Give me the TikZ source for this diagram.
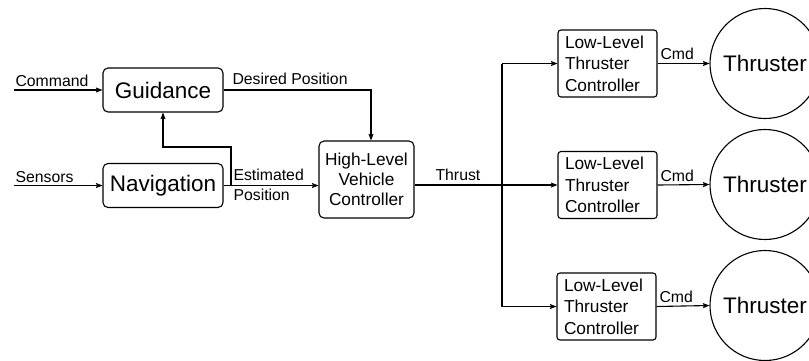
\documentclass[tikz,border=0pt]{standalone}
\usepackage{fontspec}
\setmainfont{Liberation Sans}
\usetikzlibrary{arrows.meta}
\begin{document}
\begin{tikzpicture}[x=1pt,y=-1pt,
  line width=1.1pt,
  arr/.style={-{Stealth[length=6.5pt,width=5pt,inset=1pt]}},
  bigbox/.style={draw,rounded corners=5pt,minimum width=120pt,minimum height=44pt,inner sep=0pt,font=\fontsize{22.5}{26}\selectfont},
  hlbox/.style={draw,rounded corners=5pt,minimum width=95pt,minimum height=77pt,inner sep=0pt,align=center,font=\fontsize{17.3}{20}\selectfont},
  llbox/.style={draw,rounded corners=3pt,minimum width=99pt,minimum height=67pt,inner xsep=7pt,inner ysep=0pt,text width=85pt,align=left,font=\fontsize{17.3}{21.5}\selectfont},
  thr/.style={draw,circle,minimum size=110pt,inner sep=0pt,font=\fontsize{22.5}{26}\selectfont},
  lbl/.style={font=\fontsize{15.8}{18}\selectfont,inner sep=0pt,anchor=base west},
]
\clip (0,0) rectangle (809,360);

\node[bigbox] (guid) at (163,90) {Guidance};
\node[bigbox] (nav) at (163,185.5) {Navigation};
\node[hlbox] (hl) at (366.5,179.5) {High-Level\\Vehicle\\Controller};

\node[llbox] (ll1) at (607.5,63.5) {Low-Level\\Thruster\\Controller};
\node[llbox] (ll2) at (607.5,185) {Low-Level\\Thruster\\Controller};
\node[llbox] (ll3) at (606.5,306.5) {Low-Level\\Thruster\\Controller};

\node[thr] (th1) at (765,63.5) {Thruster};
\node[thr] (th2) at (765,184.5) {Thruster};
\node[thr] (th3) at (765,305.5) {Thruster};

% inputs
\coordinate (cmdin) at (14,90);
\coordinate (senin) at (14,185.5);
\draw[arr] (cmdin) -- (guid.west);
\draw[arr] (senin) -- (nav.west);
\node[lbl] (lcmd) at (15,86.5) {Command};
\node[lbl] (lsen) at (15,182) {Sensors};

% desired position
\coordinate (dp) at (371,90);
\draw[arr] (guid.east) -- (dp) -- (dp |- hl.north);
\node[lbl] (ldp) at (232,84) {Desired Position};

% estimated position
\draw[arr] (nav.east) -- (hl.west |- nav.east);
\coordinate (br) at (231,185.5);
\coordinate (fb) at (163,147);
\draw[arr] (br) |- (fb) -- (guid.south);
\node[lbl] (lest) at (233,180) {Estimated};
\node[lbl] (lpos) at (233,200) {Position};

% thrust
\draw[arr] (hl.east |- ll2.west) -- (ll2.west);
\node[lbl] (lthr) at (435,180) {Thrust};
\coordinate (s1) at (502,63.5);
\coordinate (s3) at (502,306.5);
\draw (s1) -- (s3);
\draw[arr] (s1) -- (ll1.west);
\draw[arr] (s3) -- (ll3.west);

% commands
\draw[arr] (ll1.east) -- (th1.west);
\draw[arr] (ll2.east) -- (th2.west);
\draw[arr] (ll3.east) -- (th3.west);
\node[lbl] (c1) at (660,59) {Cmd};
\node[lbl] (c2) at (660,181) {Cmd};
\node[lbl] (c3) at (659,302) {Cmd};
\end{tikzpicture}
\end{document}
